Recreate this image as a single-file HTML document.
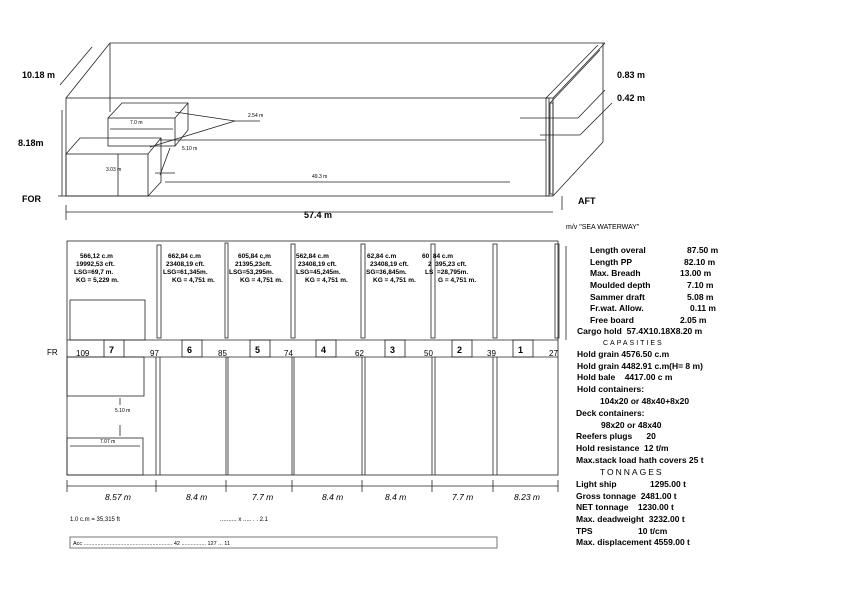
<!DOCTYPE html>
<html><head><meta charset="utf-8"><style>
body{margin:0;background:#fff}
svg{display:block}
text{font-family:"Liberation Sans",sans-serif;fill:#000;white-space:pre}
.b{font-weight:bold}
</style></head><body>
<svg width="842" height="595" viewBox="0 0 842 595" xmlns="http://www.w3.org/2000/svg" xml:space="preserve">
<g stroke="#222" stroke-width="0.8" fill="none">
<line x1="110" y1="43" x2="605" y2="43"/>
<rect x="66" y="98" width="487" height="98"/>
<line x1="66" y1="98" x2="110" y2="43"/>
<line x1="553" y1="98" x2="605" y2="43"/>
<line x1="553" y1="196" x2="603" y2="142"/>
<line x1="603" y1="43" x2="603" y2="142"/>
<line x1="110" y1="43" x2="110" y2="112"/>
<line x1="160" y1="140" x2="546" y2="140"/>
<rect x="546" y="98" width="3" height="98"/>
<rect x="550" y="103" width="3" height="91"/>
<line x1="546" y1="98" x2="598" y2="45"/><line x1="550" y1="103" x2="600" y2="50"/>
<line x1="520" y1="118" x2="578" y2="118"/><line x1="578" y1="118" x2="605" y2="90"/>
<line x1="540" y1="135" x2="580" y2="135"/><line x1="580" y1="135" x2="612" y2="103"/>
<line x1="562" y1="196" x2="562" y2="210"/>
<rect x="108" y="118" width="67" height="28"/>
<polyline points="108,118 122,103 188,103 188,130 175,146"/>
<line x1="175" y1="118" x2="188" y2="103"/>
<line x1="110" y1="129" x2="173" y2="129"/>
<polyline points="175,112 235,121 150,147"/><line x1="235" y1="121" x2="260" y2="121"/>
<rect x="66" y="154" width="82" height="42"/>
<polyline points="66,154 80,138 161,138 161,182 148,196"/>
<line x1="148" y1="154" x2="161" y2="138"/>
<line x1="118" y1="154" x2="118" y2="196"/>
<line x1="155" y1="173" x2="175" y2="173"/><line x1="170" y1="148" x2="160" y2="175"/>
<line x1="165" y1="182" x2="510" y2="182"/>
<line x1="62" y1="110" x2="62" y2="196"/>
<line x1="58" y1="196" x2="66" y2="196"/>
<line x1="60" y1="85" x2="92" y2="47"/>
<line x1="66" y1="212" x2="553" y2="212"/>
<line x1="66" y1="205" x2="66" y2="220"/>
<rect x="67" y="241" width="491" height="234"/>
<line x1="67" y1="340" x2="558" y2="340"/>
<line x1="67" y1="357" x2="558" y2="357"/>
<rect x="70" y="300" width="75" height="40"/>
<rect x="67" y="357" width="77" height="39"/>
<rect x="67" y="438" width="76" height="37"/>
<line x1="120" y1="398" x2="120" y2="405"/><line x1="120" y1="425" x2="120" y2="436"/>
<line x1="70" y1="446" x2="140" y2="446"/>
<g>
<rect x="157" y="245" width="4" height="93"/><rect x="225" y="243" width="3" height="95"/>
<rect x="291" y="244" width="4" height="94"/><rect x="361" y="244" width="4" height="94"/>
<rect x="431" y="244" width="4" height="94"/><rect x="493" y="244" width="4" height="94"/>
<rect x="555" y="244" width="4" height="94"/>
<line x1="156" y1="357" x2="156" y2="475"/><line x1="160" y1="357" x2="160" y2="475"/>
<line x1="226" y1="357" x2="226" y2="475"/><line x1="228" y1="357" x2="228" y2="475"/>
<line x1="292" y1="357" x2="292" y2="475"/><line x1="294" y1="357" x2="294" y2="475"/>
<line x1="362" y1="357" x2="362" y2="475"/><line x1="365" y1="357" x2="365" y2="475"/>
<line x1="432" y1="357" x2="432" y2="475"/><line x1="435" y1="357" x2="435" y2="475"/>
<line x1="493" y1="357" x2="493" y2="475"/><line x1="497" y1="357" x2="497" y2="475"/>
</g>
<rect x="104" y="340" width="20" height="17"/><rect x="182" y="340" width="20" height="17"/>
<rect x="250" y="340" width="20" height="17"/><rect x="316" y="340" width="20" height="17"/>
<rect x="385" y="340" width="20" height="17"/><rect x="452" y="340" width="20" height="17"/>
<rect x="513" y="340" width="20" height="17"/>
<line x1="566" y1="246" x2="566" y2="340"/>
<line x1="67" y1="486" x2="558" y2="486"/>
<g><line x1="67" y1="480" x2="67" y2="492"/><line x1="156" y1="480" x2="156" y2="492"/><line x1="226" y1="480" x2="226" y2="492"/><line x1="292" y1="480" x2="292" y2="492"/><line x1="362" y1="480" x2="362" y2="492"/><line x1="432" y1="480" x2="432" y2="492"/><line x1="493" y1="480" x2="493" y2="492"/><line x1="558" y1="480" x2="558" y2="492"/></g>
<rect x="70" y="537" width="427" height="11" stroke="#555"/>
</g>
<g font-size="9" class="b">
<text x="22" y="78" class="b">10.18 m</text>
<text x="18" y="146" class="b">8.18m</text>
<text x="22" y="202" class="b">FOR</text>
<text x="578" y="204" class="b">AFT</text>
<text x="304" y="218" class="b">57.4 m</text>
<text x="617" y="78" class="b">0.83 m</text>
<text x="617" y="101" class="b">0.42 m</text>
</g>
<g font-size="5">
<text x="130" y="124">7.0 m</text><text x="248" y="117">2.54 m</text>
<text x="182" y="150">5.10 m</text><text x="106" y="171">3.03 m</text>
<text x="312" y="178">49.3 m</text>
<text x="115" y="412">5.10 m</text><text x="100" y="443">7.07 m</text>
</g>
<g font-size="6.5" class="b">
<text x="80" y="258">566,12 c.m</text><text x="76" y="266">19992,53 cft.</text><text x="74" y="274">LSG=69,7 m.</text><text x="76" y="282">KG = 5,229 m.</text>
<text x="168" y="258">662,84 c.m</text><text x="166" y="266">23408,19 cft.</text><text x="163" y="274">LSG=61,345m.</text><text x="172" y="282">KG = 4,751 m.</text>
<text x="238" y="258">605,84 c,m</text><text x="235" y="266">21395,23cft.</text><text x="229" y="274">LSG=53,295m.</text><text x="240" y="282">KG = 4,751 m.</text>
<text x="296" y="258">562,84 c.m</text><text x="298" y="266">23408,19 cft.</text><text x="296" y="274">LSG=45,245m.</text><text x="305" y="282">KG = 4,751 m.</text>
<text x="367" y="258">62,84 c.m</text><text x="370" y="266">23408,19 cft.</text><text x="366" y="274">SG=36,845m.</text><text x="373" y="282">KG = 4,751 m.</text>
<text x="422" y="258">60  84 c.m</text><text x="428" y="266">2  395,23 cft.</text><text x="425" y="274">LS  =28,795m.</text><text x="438" y="282">G = 4,751 m.</text>
</g>
<g font-size="9" class="b">
<text x="109" y="353">7</text><text x="187" y="353">6</text><text x="255" y="353">5</text><text x="321" y="353">4</text><text x="390" y="353">3</text><text x="457" y="353">2</text><text x="518" y="353">1</text>
</g>
<g font-size="8">
<text x="47" y="355">FR</text><text x="76" y="356">109</text><text x="150" y="356">97</text><text x="218" y="356">85</text><text x="284" y="356">74</text><text x="355" y="356">62</text><text x="424" y="356">50</text><text x="487" y="356">39</text><text x="549" y="356">27</text>
</g>
<g font-size="8.5" font-style="italic" fill="#333">
<text x="105" y="500">8.57 m</text><text x="186" y="500">8.4 m</text><text x="252" y="500">7.7 m</text><text x="322" y="500">8.4 m</text><text x="385" y="500">8.4 m</text><text x="452" y="500">7.7 m</text><text x="514" y="500">8.23 m</text>
</g>
<text x="70" y="521" font-size="6" fill="#bbb">1.0 c.m = 35,315 ft</text>
<text x="220" y="521" font-size="6" fill="#bbb">.......... x ..... . . 2.1</text>
<text x="73" y="545" font-size="5.5" fill="#999">Acc .......................................................... 42 ................ 127 ... 11</text>
<text x="566" y="229" font-size="7">m/v "SEA WATERWAY"</text>
<g font-size="8.5" class="b">
<text x="590" y="253">Length overal</text><text x="687" y="253">87.50 m</text>
<text x="590" y="265">Length PP</text><text x="684" y="265">82.10 m</text>
<text x="590" y="276">Max. Breadh</text><text x="680" y="276">13.00 m</text>
<text x="590" y="288">Moulded depth</text><text x="687" y="288">7.10 m</text>
<text x="590" y="300">Sammer draft</text><text x="687" y="300">5.08 m</text>
<text x="590" y="311">Fr.wat. Allow.</text><text x="690" y="311">0.11 m</text>
<text x="590" y="323">Free board</text><text x="680" y="323">2.05 m</text>
<text x="577" y="334">Cargo hold  57.4X10.18X8.20 m</text>
<text x="603" y="345" font-weight="normal" fill="#aaa" font-size="7" letter-spacing="2">CAPASITIES</text>
<text x="577" y="357">Hold grain 4576.50 c.m</text>
<text x="577" y="369">Hold grain 4482.91 c.m(H= 8 m)</text>
<text x="577" y="380">Hold bale    4417.00 c m</text>
<text x="577" y="392">Hold containers:</text>
<text x="600" y="404">104x20 or 48x40+8x20</text>
<text x="576" y="416">Deck containers:</text>
<text x="601" y="428">98x20 or 48x40</text>
<text x="576" y="439">Reefers plugs      20</text>
<text x="576" y="451">Hold resistance  12 t/m</text>
<text x="576" y="463">Max.stack load hath covers 25 t</text>
<text x="600" y="475" font-weight="normal" letter-spacing="2">TONNAGES</text>
<text x="576" y="487">Light ship</text><text x="650" y="487">1295.00 t</text>
<text x="576" y="499">Gross tonnage  2481.00 t</text>
<text x="576" y="510">NET tonnage    1230.00 t</text>
<text x="576" y="522">Max. deadweight  3232.00 t</text>
<text x="576" y="534">TPS</text><text x="638" y="534">10 t/cm</text>
<text x="576" y="545">Max. displacement 4559.00 t</text>
</g>
</svg>
</body></html>
